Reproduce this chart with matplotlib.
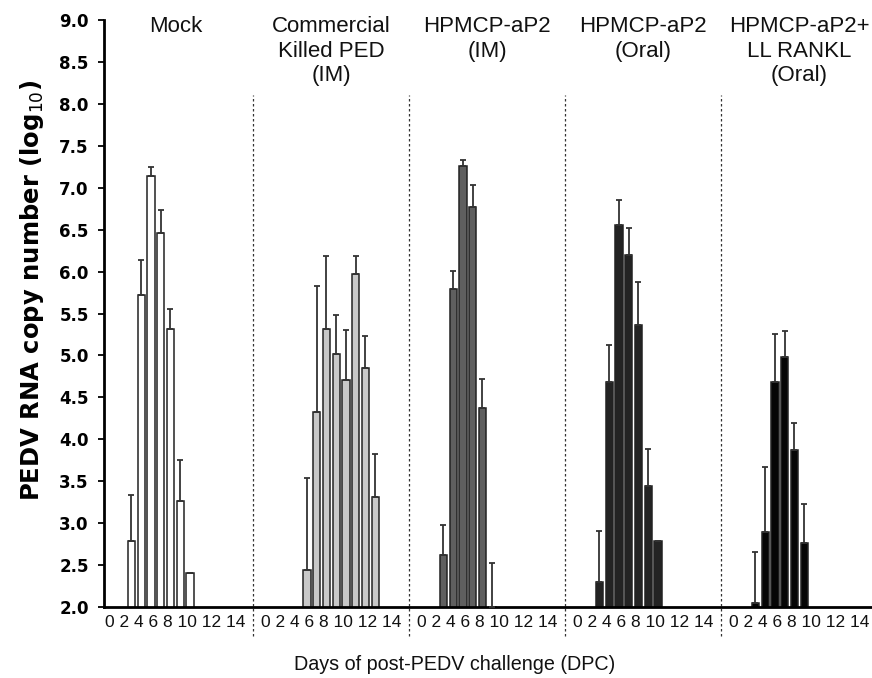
import matplotlib

matplotlib.use("Agg")
import matplotlib.pyplot as plt
import numpy as np

# Panel titles (left to right)
groups = [
    "Mock",
    "Commercial\nKilled PED\n(IM)",
    "HPMCP-aP2\n(IM)",
    "HPMCP-aP2\n(Oral)",
    "HPMCP-aP2+\nLL RANKL\n(Oral)",
]

# Days post challenge with a bar, mean log10 copies, upper SD
mock_days = [3, 4, 5, 6, 7, 8, 9]
mock_vals = [2.79, 5.72, 7.14, 6.46, 5.31, 3.27, 2.40]
mock_err = [0.55, 0.42, 0.11, 0.27, 0.24, 0.48, 0.0]

comm_days = [5, 6, 7, 8, 9, 10, 11, 12]
comm_vals = [2.44, 4.32, 5.31, 5.02, 4.71, 5.97, 4.85, 3.31]
comm_err = [1.10, 1.51, 0.87, 0.46, 0.59, 0.21, 0.38, 0.51]

im_days = [3, 4, 5, 6, 7, 8]
im_vals = [2.62, 5.79, 7.26, 6.77, 4.37, 2.0]
im_err = [0.36, 0.22, 0.07, 0.26, 0.35, 0.52]

oral_days = [3, 4, 5, 6, 7, 8, 9]
oral_vals = [2.30, 4.68, 6.56, 6.20, 5.36, 3.44, 2.79]
oral_err = [0.61, 0.44, 0.29, 0.32, 0.51, 0.44, 0.0]

rankl_days = [3, 4, 5, 6, 7, 8]
rankl_vals = [2.05, 2.90, 4.68, 4.98, 3.87, 2.76]
rankl_err = [0.60, 0.77, 0.57, 0.31, 0.32, 0.47]

day_labels = "0 2 4 6 8 10 12 14"
fills = ["white", "#c8c8c8", "#5f5f5f", "#232323", "#050505"]
slots = 16  # days 0..15 per panel

series = [
    (mock_days, mock_vals, mock_err),
    (comm_days, comm_vals, comm_err),
    (im_days, im_vals, im_err),
    (oral_days, oral_vals, oral_err),
    (rankl_days, rankl_vals, rankl_err),
]

fig = plt.figure(figsize=(8.72, 6.78), dpi=100, facecolor="white")
ax = fig.add_axes([104 / 872, 1 - 607 / 678, 768 / 872, 587 / 678])

for g, (days, vals, err) in enumerate(series):
    x = np.array(days) + g * slots
    ax.bar(x, vals, width=0.74, color=fills[g], edgecolor="#222222", linewidth=1.1, zorder=2)
    ax.errorbar(
        x,
        vals,
        yerr=[np.zeros(len(err)), err],
        fmt="none",
        ecolor="#333333",
        elinewidth=1.3,
        capsize=2.2,
        capthick=1.3,
        zorder=3,
    )
    center = g * slots + (slots - 1) / 2
    ax.text(
        center, 1.006, groups[g], transform=ax.get_xaxis_transform(),
        ha="center", va="top", fontsize=16, family="Liberation Sans",
        linespacing=1.2, color="#111111",
    )
    ax.text(
        center, -0.026, day_labels, transform=ax.get_xaxis_transform(),
        ha="center", va="center", fontsize=12.5, family="Liberation Sans", color="#111111",
    )
    if g > 0:
        ax.axvline(
            g * slots - 0.5, ymin=-0.05, ymax=0.872, color="#333333",
            linewidth=0.9, linestyle=(0, (2, 2)), clip_on=False, zorder=1,
        )

ax.set_xlim(0.19, 78.95)
ax.set_ylim(2.0, 9.0)
ax.set_xticks([])
yt = np.arange(2.0, 9.01, 0.5)
ax.set_yticks(yt)
ax.set_yticklabels([f"{v:.1f}" for v in yt], fontsize=12, fontweight="bold", family="DejaVu Sans")
ax.tick_params(axis="y", direction="out", length=4, width=1.3, pad=7)
for side in ("top", "right"):
    ax.spines[side].set_visible(False)
ax.spines["left"].set_linewidth(2)
ax.spines["bottom"].set_linewidth(2)

fig.text(
    32 / 872, 1 - 290 / 678, "PEDV RNA copy number (log$_{10}$)", rotation=90,
    ha="center", va="center", fontsize=17.5, fontweight="bold", family="DejaVu Sans",
)
fig.text(
    455 / 872, 1 - 665 / 678, "Days of post-PEDV challenge (DPC)",
    ha="center", va="center", fontsize=14.2, family="Liberation Sans", color="#111111",
)

fig.savefig("out.png", dpi=100, facecolor="white")
plt.close(fig)
